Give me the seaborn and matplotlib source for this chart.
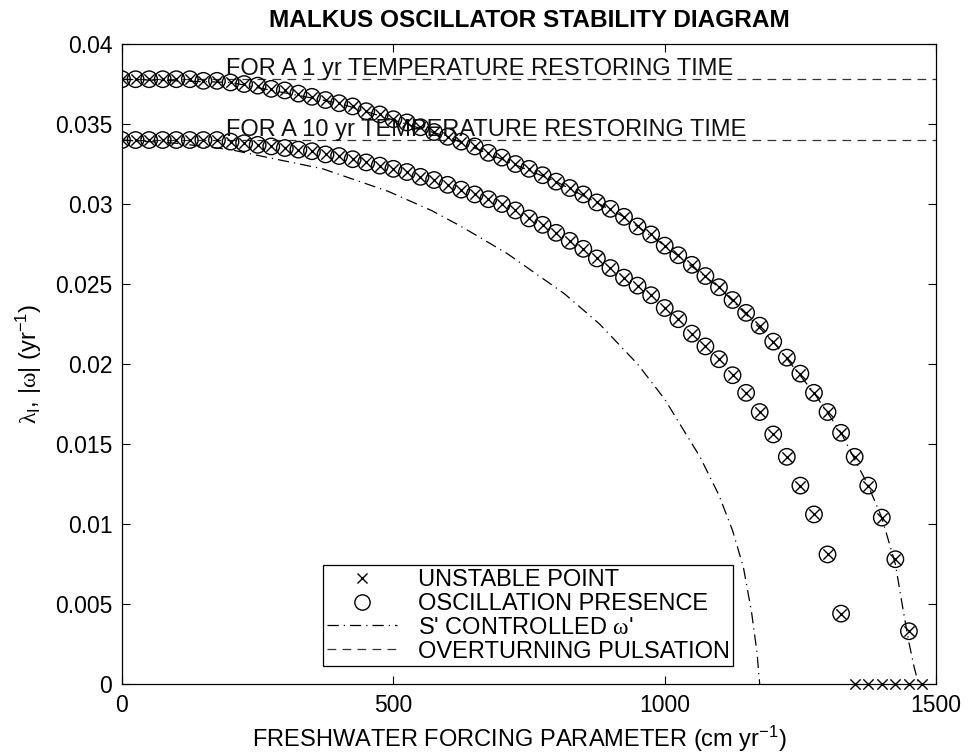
import matplotlib
matplotlib.use("Agg")
import matplotlib.pyplot as plt
from matplotlib.lines import Line2D
import seaborn as sns
import pandas as pd

# Freshwater forcing grid (cm/yr) for the 1 yr and 10 yr restoring-time runs
forcing_1yr = [0, 25, 50, 75, 100, 125, 150, 175, 200, 225, 250, 275, 300, 325, 350,
               375, 400, 425, 450, 475, 500, 525, 550, 575, 600, 625, 650, 675, 700,
               725, 750, 775, 800, 825, 850, 875, 900, 925, 950, 975, 1000, 1025,
               1050, 1075, 1100, 1125, 1150, 1175, 1200, 1225, 1250, 1275, 1300,
               1325, 1350, 1375, 1400, 1425, 1450]
omega_1yr = [0.0378, 0.0378, 0.0378, 0.0378, 0.0378, 0.0378, 0.0377, 0.0377, 0.0376,
             0.0375, 0.0374, 0.0372, 0.0371, 0.0369, 0.0367, 0.0365, 0.0363, 0.0361,
             0.0358, 0.0356, 0.0353, 0.0351, 0.0348, 0.0345, 0.0342, 0.0339, 0.0336,
             0.0332, 0.0329, 0.0325, 0.0322, 0.0318, 0.0314, 0.0310, 0.0306, 0.0301,
             0.0297, 0.0292, 0.0286, 0.0281, 0.0274, 0.0268, 0.0262, 0.0255, 0.0248,
             0.0240, 0.0232, 0.0224, 0.0214, 0.0204, 0.0194, 0.0182, 0.0170, 0.0157,
             0.0142, 0.0124, 0.0104, 0.0078, 0.0033]

forcing_10yr = [0, 25, 50, 75, 100, 125, 150, 175, 200, 225, 250, 275, 300, 325, 350,
                375, 400, 425, 450, 475, 500, 525, 550, 575, 600, 625, 650, 675, 700,
                725, 750, 775, 800, 825, 850, 875, 900, 925, 950, 975, 1000, 1025,
                1050, 1075, 1100, 1125, 1150, 1175, 1200, 1225, 1250, 1275, 1300, 1325]
omega_10yr = [0.0340, 0.0340, 0.0340, 0.0340, 0.0340, 0.0340, 0.0340, 0.0340, 0.0339,
              0.0338, 0.0337, 0.0336, 0.0335, 0.0334, 0.0333, 0.0331, 0.0330, 0.0328,
              0.0326, 0.0324, 0.0322, 0.0320, 0.0317, 0.0315, 0.0312, 0.0309, 0.0306,
              0.0303, 0.0300, 0.0296, 0.0291, 0.0287, 0.0282, 0.0277, 0.0272, 0.0266,
              0.0260, 0.0254, 0.0249, 0.0243, 0.0235, 0.0228, 0.0219, 0.0211, 0.0203,
              0.0193, 0.0182, 0.0170, 0.0156, 0.0142, 0.0124, 0.0106, 0.0081, 0.0044]

# Unstable points where the oscillation frequency has collapsed to zero
unstable_zero_x = [1350, 1375, 1400, 1425, 1450, 1475]
unstable_zero_y = [0, 0, 0, 0, 0, 0]

# S'-controlled frequency curves
sctrl_10yr_x = [0, 100, 200, 270, 370, 490, 570, 625, 710, 815, 880, 950, 1000,
                1065, 1100, 1125, 1145, 1160, 1170, 1175]
sctrl_10yr_y = [0.0340, 0.0338, 0.0334, 0.0329, 0.0322, 0.0308, 0.0296, 0.0286,
                0.0269, 0.0244, 0.0225, 0.0200, 0.0178, 0.0142, 0.0118, 0.0096,
                0.0073, 0.0045, 0.0020, 0.0]
sctrl_1yr_x = [0, 200, 400, 600, 800, 925, 1000, 1100, 1200, 1275, 1325, 1375,
               1400, 1425, 1440, 1450, 1460, 1468]
sctrl_1yr_y = [0.0378, 0.0376, 0.0363, 0.0342, 0.0314, 0.0292, 0.0274, 0.0248,
               0.0214, 0.0182, 0.0157, 0.0124, 0.0104, 0.0075, 0.0045, 0.0026,
               0.0010, 0.0]

# Overturning pulsation levels
pulsation_levels = [0.0378, 0.0340]
pulsation_labels = ["FOR A 1 yr TEMPERATURE RESTORING TIME",
                    "FOR A 10 yr TEMPERATURE RESTORING TIME"]

x_ticks = [0, 500, 1000, 1500]
y_ticks = [0, 0.005, 0.01, 0.015, 0.02, 0.025, 0.03, 0.035, 0.04]
y_tick_labels = ["0", "0.005", "0.01", "0.015", "0.02", "0.025", "0.03", "0.035", "0.04"]

sns.set_theme(style="white")
plt.rcParams["font.family"] = ["Liberation Sans", "DejaVu Sans"]
plt.rcParams["text.color"] = "black"
plt.rcParams["axes.labelcolor"] = "black"
plt.rcParams["mathtext.fontset"] = "custom"
plt.rcParams["mathtext.rm"] = "Liberation Sans"
plt.rcParams["mathtext.it"] = "Liberation Sans:italic"
plt.rcParams["mathtext.sf"] = "Liberation Serif"

fig = plt.figure(figsize=(9.69, 7.54), dpi=100)
ax = fig.add_axes([0.1259, 0.0928, 0.8401, 0.8488])

dash_style = (0, (7.0, 5.0))
dashdot_style = (0, (9.0, 4.0, 1.0, 4.0))

for lvl in pulsation_levels:
    df = pd.DataFrame({"F": [0, 1500], "w": [lvl, lvl]})
    sns.lineplot(data=df, x="F", y="w", ax=ax, color="#333333", lw=0.9,
                 linestyle=dash_style, sort=False)

for xs, ys in [(sctrl_10yr_x, sctrl_10yr_y), (sctrl_1yr_x, sctrl_1yr_y)]:
    df = pd.DataFrame({"F": xs, "w": ys})
    sns.lineplot(data=df, x="F", y="w", ax=ax, color="black", lw=0.9,
                 linestyle=dashdot_style, sort=False)

for xs, ys in [(forcing_1yr, omega_1yr), (forcing_10yr, omega_10yr)]:
    df = pd.DataFrame({"F": xs, "w": ys})
    sns.scatterplot(data=df, x="F", y="w", ax=ax, marker="o", s=140,
                    facecolors="none", edgecolor="black", linewidth=1.0, zorder=3)
    sns.scatterplot(data=df, x="F", y="w", ax=ax, marker="x", s=55,
                    color="black", linewidth=1.0, zorder=4)

sns.scatterplot(x=unstable_zero_x, y=unstable_zero_y, ax=ax, marker="x", s=55,
                color="black", linewidth=1.0, zorder=4, clip_on=False)

for lvl, txt in zip(pulsation_levels, pulsation_labels):
    ax.text(192, lvl + 0.00025, txt, fontsize=17, va="baseline", ha="left",
            color="#111111")

ax.set_xlim(0, 1500)
ax.set_ylim(0, 0.04)
ax.set_xticks(x_ticks)
ax.set_xticklabels([str(t) for t in x_ticks])
ax.set_yticks(y_ticks)
ax.set_yticklabels(y_tick_labels)
ax.tick_params(axis="both", which="both", direction="in", length=6, width=0.8,
               top=True, right=True, bottom=True, left=True, labelsize=16.5,
               colors="black", pad=7)
for sp in ax.spines.values():
    sp.set_color("black")
    sp.set_linewidth(0.9)

ax.set_xlabel(r"FRESHWATER FORCING PARAMETER (cm yr$^{-1}$)", fontsize=17,
              labelpad=5, color="black")
ax.xaxis.label.set_x(0.488)
ax.set_ylabel(r"$\mathsf{\lambda}_{\mathrm{I}}$, |$\mathsf{\omega}$| (yr$^{-1}$)",
              fontsize=17, labelpad=8, color="black")
ax.set_title("MALKUS OSCILLATOR STABILITY DIAGRAM", fontsize=17.6,
             fontweight="bold", pad=12, color="black")

handles = [
    Line2D([], [], linestyle="none", marker="x", color="black", markersize=7,
           markeredgewidth=1.0),
    Line2D([], [], linestyle="none", marker="o", markerfacecolor="none",
           markeredgecolor="black", markersize=11, markeredgewidth=1.0),
    Line2D([], [], color="black", lw=0.9, linestyle=dashdot_style),
    Line2D([], [], color="#333333", lw=0.9, linestyle=dash_style),
]
labels = ["UNSTABLE POINT", "OSCILLATION PRESENCE",
          r"S' CONTROLLED $\mathsf{\omega}$'", "OVERTURNING PULSATION"]
leg = ax.legend(handles, labels, loc="lower left", bbox_to_anchor=(0.247, 0.028),
                fontsize=17, frameon=True, fancybox=False, framealpha=1,
                edgecolor="black", handlelength=3.0, handletextpad=0.85,
                labelspacing=0.08, borderpad=0.15, borderaxespad=0)
leg.get_frame().set_linewidth(0.9)

fig.savefig("out.png", dpi=100)
